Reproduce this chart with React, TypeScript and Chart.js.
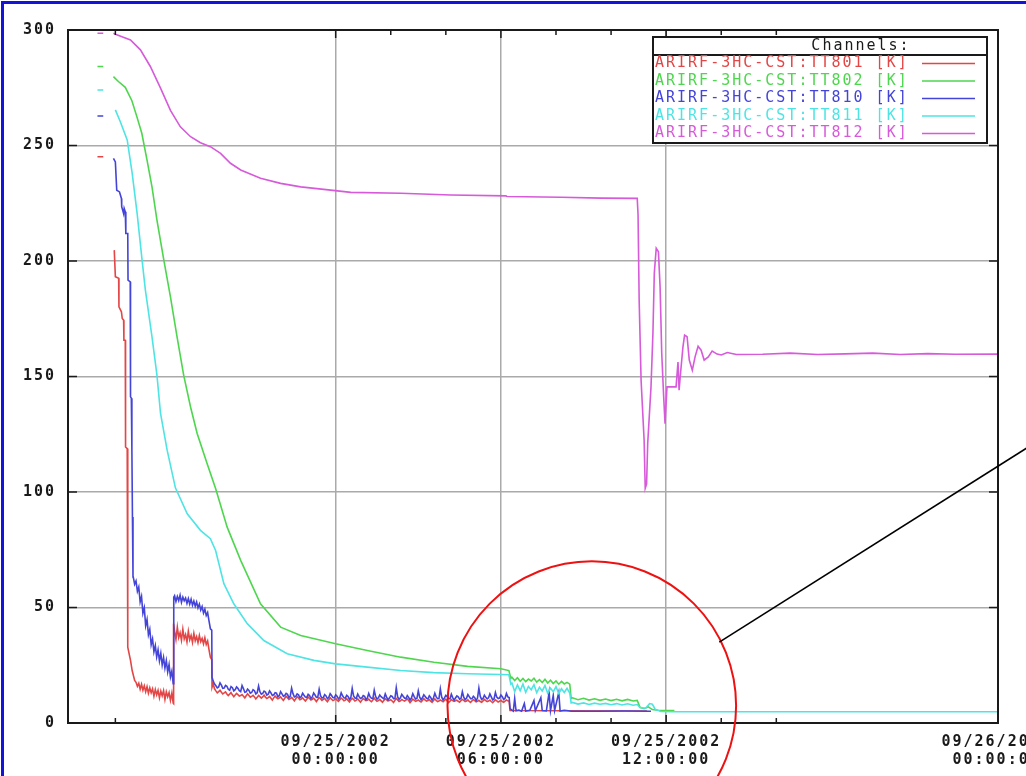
import { useEffect, useRef } from 'react';
import { Chart, registerables } from 'chart.js';

Chart.register(...registerables);

type Row = [number, number | null];

// Time axis: hours relative to 09/25/2002 00:00:00
const AXIS_START = -9.72;
const AXIS_END = 24.05;
const MAJOR_TIME_TICKS = [0, 6, 12];
const MINOR_TIME_TICKS = [-8, 2, 4, 8, 10, 14, 16];
const LABELED_TIMES = [0, 6, 12, 24];
const KELVIN_TICKS = [0, 50, 100, 150, 200, 250, 300];

const CHANNELS = [
  'ARIRF-3HC-CST:TT801 [K]',
  'ARIRF-3HC-CST:TT802 [K]',
  'ARIRF-3HC-CST:TT810 [K]',
  'ARIRF-3HC-CST:TT811 [K]',
  'ARIRF-3HC-CST:TT812 [K]',
];
const COLORS = ['#e34646', '#4ed64e', '#4444d8', '#4ee4e4', '#d65ad9'];

// [hours, kelvin]
const TT801: Row[] = [
  [-8.65, 245.1], [-8.44, 245.1], [-8.3, null],
  [-8.04, 204.7], [-8.0, 193.2], [-7.88, 192.5], [-7.87, 180.2], [-7.78, 178], [-7.75, 175.1],
  [-7.7, 174.4], [-7.69, 165.7], [-7.64, 165.7], [-7.63, 119.5], [-7.57, 118.8], [-7.55, 32.8],
  [-7.45, 27.1], [-7.39, 22.7], [-7.3, 18.4],
  [-7.25, 17.6], [-7.2, 15.9], [-7.15, 17.2], [-7.1, 14.6], [-7.05, 16.8], [-7.0, 14.2],
  [-6.95, 16.1], [-6.9, 13.5], [-6.85, 15.7], [-6.8, 12.9], [-6.75, 15.2], [-6.7, 13.1],
  [-6.65, 14.8], [-6.6, 11.6], [-6.55, 14.5], [-6.5, 12.2], [-6.45, 14.1], [-6.4, 10.9],
  [-6.35, 13.8], [-6.3, 11.8], [-6.25, 14.0], [-6.2, 10.2], [-6.15, 13.5], [-6.1, 11.4],
  [-6.05, 13.2], [-6.0, 9.8], [-5.95, 12.9], [-5.9, 8.6], [-5.89, 8.4],
  [-5.88, 43.0], [-5.85, 39.8], [-5.8, 36.2], [-5.75, 41.5], [-5.7, 37.0], [-5.65, 39.1],
  [-5.6, 35.8], [-5.55, 40.6], [-5.5, 36.4], [-5.45, 38.3], [-5.4, 35.1], [-5.35, 39.7],
  [-5.3, 36.0], [-5.25, 37.9], [-5.2, 34.9], [-5.15, 38.8], [-5.1, 35.6], [-5.05, 37.4],
  [-5.0, 34.8], [-4.95, 37.9], [-4.9, 35.2], [-4.85, 36.6], [-4.8, 34.3], [-4.75, 36.9],
  [-4.7, 34.0], [-4.65, 35.5], [-4.6, 31.8], [-4.55, 28.5], [-4.5, 27.4],
  [-4.49, 15.5], [-4.45, 17.0],
  [-4.4, 14.8], [-4.35, 13.9], [-4.3, 13.1], [-4.25, 13.6], [-4.2, 14.2], [-4.15, 13.3],
  [-4.1, 12.6], [-4.05, 13.0], [-4.0, 13.5], [-3.95, 12.6], [-3.9, 11.9], [-3.85, 12.5],
  [-3.8, 13.2], [-3.75, 12.2], [-3.7, 11.4], [-3.65, 12.1], [-3.6, 12.8], [-3.55, 12.3],
  [-3.5, 11.7], [-3.45, 11.9], [-3.4, 12.3], [-3.35, 11.6], [-3.3, 10.9], [-3.25, 11.8],
  [-3.2, 12.6], [-3.15, 11.9], [-3.1, 11.2], [-3.05, 11.5], [-3.0, 12.0], [-2.95, 11.3],
  [-2.9, 10.4], [-2.85, 11.1], [-2.8, 11.9], [-2.75, 11.4], [-2.7, 10.8], [-2.65, 11.3],
  [-2.6, 12.1], [-2.55, 11.2], [-2.5, 10.6], [-2.45, 11.0], [-2.4, 11.5], [-2.35, 10.7],
  [-2.3, 9.9], [-2.25, 10.9], [-2.2, 11.7], [-2.15, 11.0], [-2.1, 10.5], [-2.05, 10.8],
  [-2.0, 11.3], [-1.95, 10.5], [-1.9, 9.8], [-1.85, 10.7], [-1.8, 11.6], [-1.75, 10.9],
  [-1.7, 10.2], [-1.65, 10.6], [-1.6, 11.1], [-1.55, 10.4], [-1.5, 9.6], [-1.45, 10.5],
  [-1.4, 11.4], [-1.35, 10.8], [-1.3, 10.1], [-1.25, 10.4], [-1.2, 10.9], [-1.15, 10.2],
  [-1.1, 9.5], [-1.05, 10.3], [-1.0, 11.2], [-0.95, 10.6], [-0.9, 10.0], [-0.85, 10.3],
  [-0.8, 10.8], [-0.75, 10.1], [-0.7, 9.3], [-0.65, 10.2], [-0.6, 11.0], [-0.55, 10.5],
  [-0.5, 9.8], [-0.45, 10.2], [-0.4, 10.7], [-0.35, 9.9], [-0.3, 9.2], [-0.25, 10.1],
  [-0.2, 10.9], [-0.15, 10.3], [-0.1, 9.7], [-0.05, 10.0], [0.0, 10.6], [0.05, 9.9],
  [0.1, 9.4], [0.15, 10.1], [0.2, 10.8], [0.25, 10.3], [0.3, 9.6], [0.35, 9.9],
  [0.4, 10.5], [0.45, 9.8], [0.5, 9.1], [0.55, 10.0], [0.6, 10.7], [0.65, 10.2],
  [0.7, 9.5], [0.75, 9.9], [0.8, 10.4], [0.85, 9.7], [0.9, 9.0], [0.95, 9.9],
  [1.0, 10.6], [1.05, 10.1], [1.1, 9.7], [1.15, 9.8], [1.2, 10.3], [1.25, 9.7],
  [1.3, 9.2], [1.35, 9.9], [1.4, 10.8], [1.45, 10.0], [1.5, 9.4], [1.55, 9.7],
  [1.6, 10.2], [1.65, 9.6], [1.7, 9.0], [1.75, 9.8], [1.8, 10.5], [1.85, 10.0],
  [1.9, 9.6], [1.95, 9.7], [2.0, 10.1], [2.05, 9.5], [2.1, 8.9], [2.15, 9.8],
  [2.2, 10.6], [2.25, 10.0], [2.3, 9.3], [2.35, 9.6], [2.4, 10.2], [2.45, 9.8],
  [2.5, 9.5], [2.55, 9.9], [2.6, 10.4], [2.65, 9.7], [2.7, 8.8], [2.75, 9.5],
  [2.8, 10.3], [2.85, 9.9], [2.9, 9.4], [2.95, 9.6], [3.0, 10.0], [3.05, 9.5],
  [3.1, 9.1], [3.15, 9.8], [3.2, 10.5], [3.25, 9.9], [3.3, 9.5], [3.35, 9.7],
  [3.4, 10.1], [3.45, 9.4], [3.5, 8.9], [3.55, 9.7], [3.6, 10.4], [3.65, 9.8],
  [3.7, 9.3], [3.75, 9.5], [3.8, 10.0], [3.85, 9.6], [3.9, 9.2], [3.95, 9.8],
  [4.0, 10.3], [4.05, 9.5], [4.1, 8.8], [4.15, 9.4], [4.2, 10.1], [4.25, 9.7],
  [4.3, 9.4], [4.35, 9.6], [4.4, 9.9], [4.45, 9.4], [4.5, 9.0], [4.55, 9.7],
  [4.6, 10.2], [4.65, 9.8], [4.7, 9.3], [4.75, 9.5], [4.8, 10.0], [4.85, 9.4],
  [4.9, 8.9], [4.95, 9.6], [5.0, 10.1], [5.05, 9.7], [5.1, 9.2], [5.15, 9.4],
  [5.2, 9.8], [5.25, 9.3], [5.3, 9.0], [5.35, 9.6], [5.4, 10.2], [5.45, 9.7],
  [5.5, 9.3], [5.55, 9.5], [5.6, 9.9], [5.65, 9.3], [5.7, 8.8], [5.75, 9.4],
  [5.8, 10.0], [5.85, 9.6], [5.9, 9.1], [5.95, 9.4], [6.0, 9.8], [6.05, 9.3],
  [6.1, 9.0], [6.15, 9.5], [6.2, 10.0], [6.25, 9.6], [6.3, 9.4],
  [6.33, 5.4], [8.5, 5.3], [11.3, 5.2],
];

const TT802: Row[] = [
  [-8.65, 284.2], [-8.44, 284.2], [-8.3, null],
  [-8.07, 279.8], [-7.89, 277.7], [-7.64, 275.2], [-7.4, 269.4], [-7.22, 262.5], [-7.04, 255.3],
  [-6.85, 243.7], [-6.67, 232.1], [-6.49, 217.7], [-6.24, 200.4], [-6.0, 184.5], [-5.76, 167.2],
  [-5.52, 150.6], [-5.27, 136.8], [-5.03, 125.3], [-4.67, 112.3], [-4.36, 101.5], [-3.94, 84.8],
  [-3.45, 70.4], [-2.73, 51.6], [-2.0, 41.5], [-1.27, 37.9], [0, 34.3], [1.15, 31.4],
  [2.36, 28.5], [3.57, 26.3], [4.79, 24.5], [6.0, 23.5], [6.29, 22.7],
  [6.36, 19.3], [6.4, 19.8], [6.5, 18.4], [6.6, 19.6], [6.7, 18.1], [6.8, 19.3], [6.9, 17.9],
  [7.0, 19.0], [7.1, 18.2], [7.2, 19.4], [7.3, 17.7], [7.4, 18.8], [7.5, 17.5], [7.6, 18.9],
  [7.7, 17.3], [7.8, 18.5], [7.9, 17.1], [8.0, 18.2], [8.1, 16.8], [8.2, 18.0], [8.3, 16.9],
  [8.4, 17.6], [8.5, 16.8],
  [8.55, 10.6], [8.6, 10.9], [8.8, 10.1], [9.0, 10.7], [9.2, 9.9], [9.4, 10.5], [9.6, 9.8],
  [9.8, 10.4], [10.0, 9.7], [10.2, 10.3], [10.4, 9.6], [10.6, 10.2], [10.8, 9.5], [10.95, 9.8],
  [11.05, 6.8], [11.2, 6.2], [11.35, 7.0], [11.5, 5.8], [11.7, 5.5], [12.0, 5.4], [12.3, 5.4],
];

const TT810: Row[] = [
  [-8.65, 262.8], [-8.44, 262.8], [-8.3, null],
  [-8.07, 244.4], [-8.0, 242.9], [-7.95, 230.6], [-7.85, 229.9], [-7.78, 227.1], [-7.77, 223.5],
  [-7.7, 220.5], [-7.68, 222.8], [-7.64, 221.3], [-7.62, 211.9], [-7.55, 211.9], [-7.54, 191.7],
  [-7.46, 191], [-7.45, 141.2], [-7.42, 140.6], [-7.4, 118.1], [-7.38, 89.2], [-7.36, 63.2],
  [-7.35, 63.2], [-7.3, 60.1], [-7.25, 61.5], [-7.2, 57.0], [-7.15, 58.9], [-7.1, 52.4],
  [-7.05, 54.8], [-7.0, 47.5], [-6.95, 49.9], [-6.9, 42.1], [-6.85, 44.8], [-6.8, 38.2],
  [-6.75, 40.6], [-6.7, 33.9], [-6.65, 36.4], [-6.6, 30.8], [-6.55, 33.5], [-6.5, 28.6],
  [-6.45, 31.7], [-6.4, 26.9], [-6.35, 30.2], [-6.3, 25.1], [-6.25, 28.4], [-6.2, 23.8],
  [-6.15, 27.0], [-6.1, 22.1], [-6.05, 25.3], [-6.0, 19.9], [-5.95, 22.4], [-5.9, 17.0],
  [-5.88, 54.5], [-5.85, 55.1], [-5.8, 52.6], [-5.75, 54.8], [-5.7, 53.0], [-5.65, 55.3],
  [-5.6, 52.2], [-5.55, 54.5], [-5.5, 52.9], [-5.45, 54.1], [-5.4, 51.8], [-5.35, 53.9],
  [-5.3, 51.5], [-5.25, 53.6], [-5.2, 51.0], [-5.15, 52.8], [-5.1, 50.6], [-5.05, 52.4],
  [-5.0, 49.8], [-4.95, 51.5], [-4.9, 48.9], [-4.85, 50.4], [-4.8, 47.6], [-4.75, 49.3],
  [-4.7, 46.5], [-4.65, 47.8], [-4.6, 44.2], [-4.55, 40.8], [-4.5, 40.2],
  [-4.49, 19.8], [-4.45, 18.2],
  [-4.4, 16.9], [-4.35, 16.1], [-4.3, 15.2], [-4.25, 15.6], [-4.2, 17.4], [-4.15, 16.4],
  [-4.1, 15.0], [-4.05, 15.1], [-4.0, 16.3], [-3.95, 15.9], [-3.9, 14.6], [-3.85, 14.2],
  [-3.8, 15.8], [-3.75, 15.3], [-3.7, 13.9], [-3.65, 14.4], [-3.6, 15.6], [-3.55, 15.0],
  [-3.5, 14.0], [-3.45, 13.6], [-3.4, 16.2], [-3.35, 14.9], [-3.3, 13.3], [-3.25, 13.5],
  [-3.2, 14.7], [-3.15, 14.1], [-3.1, 12.9], [-3.05, 13.2], [-3.0, 14.4], [-2.95, 14.0],
  [-2.9, 12.6], [-2.85, 13.1], [-2.8, 16.0], [-2.75, 13.5], [-2.7, 12.5], [-2.65, 12.8],
  [-2.6, 13.8], [-2.55, 13.4], [-2.5, 12.1], [-2.45, 12.5], [-2.4, 13.9], [-2.35, 13.0],
  [-2.3, 11.9], [-2.25, 12.2], [-2.2, 13.1], [-2.15, 12.9], [-2.1, 11.4], [-2.05, 11.8],
  [-2.0, 13.6], [-1.95, 12.6], [-1.9, 11.6], [-1.85, 11.9], [-1.8, 12.8], [-1.75, 12.4],
  [-1.7, 11.0], [-1.65, 11.6], [-1.6, 15.1], [-1.55, 12.7], [-1.5, 11.3], [-1.45, 11.5],
  [-1.4, 12.6], [-1.35, 12.2], [-1.3, 10.9], [-1.25, 11.4], [-1.2, 12.9], [-1.15, 12.0],
  [-1.1, 11.2], [-1.05, 11.1], [-1.0, 12.4], [-0.95, 11.9], [-0.9, 10.6], [-0.85, 11.3],
  [-0.8, 13.0], [-0.75, 12.1], [-0.7, 11.1], [-0.65, 11.2], [-0.6, 14.6], [-0.55, 11.8],
  [-0.5, 10.8], [-0.45, 11.0], [-0.4, 12.3], [-0.35, 11.7], [-0.3, 10.5], [-0.25, 11.1],
  [-0.2, 12.7], [-0.15, 11.9], [-0.1, 11.0], [-0.05, 10.9], [0.0, 12.2], [0.05, 11.6],
  [0.1, 10.4], [0.15, 11.0], [0.2, 13.1], [0.25, 11.8], [0.3, 10.9], [0.35, 10.8],
  [0.4, 12.0], [0.45, 11.5], [0.5, 10.2], [0.55, 11.0], [0.6, 15.0], [0.65, 11.7],
  [0.7, 10.8], [0.75, 10.7], [0.8, 12.5], [0.85, 11.4], [0.9, 10.6], [0.95, 10.9],
  [1.0, 11.9], [1.05, 11.6], [1.1, 10.1], [1.15, 10.8], [1.2, 12.8], [1.25, 11.3],
  [1.3, 10.7], [1.35, 10.6], [1.4, 14.2], [1.45, 11.5], [1.5, 10.3], [1.55, 10.9],
  [1.6, 12.1], [1.65, 11.4], [1.7, 10.9], [1.75, 10.5], [1.8, 12.6], [1.85, 11.2],
  [1.9, 10.0], [1.95, 10.8], [2.0, 11.8], [2.05, 11.5], [2.1, 10.5], [2.15, 10.6],
  [2.2, 15.3], [2.25, 11.3], [2.3, 10.2], [2.35, 10.9], [2.4, 12.4], [2.45, 11.6],
  [2.5, 10.8], [2.55, 10.5], [2.6, 11.9], [2.65, 11.1], [2.7, 9.9], [2.75, 10.8],
  [2.8, 12.7], [2.85, 11.4], [2.9, 10.4], [2.95, 10.6], [3.0, 13.9], [3.05, 11.2],
  [3.1, 10.1], [3.15, 10.9], [3.2, 12.2], [3.25, 11.5], [3.3, 10.7], [3.35, 10.4],
  [3.4, 11.8], [3.45, 11.1], [3.5, 9.8], [3.55, 10.8], [3.6, 12.9], [3.65, 11.3],
  [3.7, 10.5], [3.75, 10.6], [3.8, 14.8], [3.85, 11.2], [3.9, 10.0], [3.95, 10.9],
  [4.0, 12.0], [4.05, 11.4], [4.1, 10.6], [4.15, 10.5], [4.2, 12.5], [4.25, 11.0],
  [4.3, 9.9], [4.35, 10.8], [4.4, 11.7], [4.45, 11.3], [4.5, 10.3], [4.55, 10.6],
  [4.6, 13.6], [4.65, 11.2], [4.7, 10.1], [4.75, 10.7], [4.8, 12.3], [4.85, 11.4],
  [4.9, 10.5], [4.95, 10.5], [5.0, 11.6], [5.05, 11.0], [5.1, 9.7], [5.15, 10.8],
  [5.2, 15.1], [5.25, 11.5], [5.3, 10.2], [5.35, 10.6], [5.4, 12.0], [5.45, 11.1],
  [5.5, 10.4], [5.55, 10.9], [5.6, 12.6], [5.65, 11.3], [5.7, 10.0], [5.75, 10.4],
  [5.8, 13.2], [5.85, 11.2], [5.9, 10.6], [5.95, 10.8], [6.0, 12.1], [6.05, 11.4],
  [6.1, 10.2], [6.15, 10.7], [6.2, 12.8], [6.25, 11.3], [6.3, 11.0],
  [6.33, 6.2], [6.4, 5.6], [6.45, 5.2], [6.5, 10.6], [6.55, 5.3], [6.65, 5.6], [6.75, 5.1],
  [6.85, 8.4], [6.9, 5.2], [7.05, 5.5], [7.2, 9.7], [7.25, 5.3], [7.45, 11.0], [7.5, 5.4],
  [7.65, 5.2], [7.75, 13.2], [7.8, 5.3], [7.9, 11.9], [7.95, 5.4], [8.1, 13.2], [8.15, 5.2],
  [8.3, 5.5], [8.45, 5.3], [8.55, 5.1], [9.5, 5.1], [10.5, 5.2], [11.45, 5.1],
];

const TT811: Row[] = [
  [-8.65, 274.0], [-8.44, 274.0], [-8.3, null],
  [-8.0, 265.4], [-7.82, 260.3], [-7.57, 252.4], [-7.39, 238.0], [-7.21, 220.6], [-7.03, 200.4],
  [-6.91, 187.4], [-6.67, 167.2], [-6.49, 150.6], [-6.36, 134.0], [-6.12, 118.1], [-5.82, 101.8],
  [-5.39, 90.6], [-4.91, 83.4], [-4.55, 79.8], [-4.36, 74.7], [-4.06, 60.3], [-3.7, 51.6],
  [-3.21, 43.0], [-2.61, 35.7], [-1.76, 30.0], [-0.79, 27.1], [0, 25.6], [1.15, 24.2],
  [2.36, 22.7], [3.56, 21.8], [4.79, 21.3], [6.0, 21.0], [6.29, 20.9],
  [6.36, 16.8], [6.4, 17.3], [6.5, 13.6], [6.6, 16.5], [6.7, 14.0], [6.8, 16.9], [6.9, 13.3],
  [7.0, 15.8], [7.1, 14.4], [7.2, 16.6], [7.3, 13.1], [7.4, 15.5], [7.5, 13.9], [7.6, 16.2],
  [7.7, 12.9], [7.8, 15.1], [7.9, 13.5], [8.0, 15.7], [8.1, 12.8], [8.2, 14.8], [8.3, 13.2],
  [8.4, 15.0], [8.5, 13.0],
  [8.55, 8.7], [8.6, 8.9], [8.8, 8.2], [9.0, 8.7], [9.2, 8.0], [9.4, 8.6], [9.6, 8.1],
  [9.8, 8.5], [10.0, 7.9], [10.2, 8.4], [10.4, 7.8], [10.6, 8.3], [10.8, 7.7], [10.95, 8.0],
  [11.05, 6.7], [11.25, 6.4], [11.4, 8.4], [11.5, 8.1], [11.6, 6.0], [11.8, 5.0], [12.2, 4.9],
  [24.05, 4.9],
];

const TT812: Row[] = [
  [-8.65, 298.6], [-8.44, 298.6], [-8.3, null],
  [-8.07, 298.6], [-7.95, 297.9], [-7.45, 295.7], [-7.09, 291.4], [-6.73, 284.2], [-6.36, 274.8],
  [-6.0, 265.2], [-5.64, 258.1], [-5.27, 253.8], [-4.91, 251.2], [-4.55, 249.5], [-4.18, 246.6],
  [-3.82, 242.3], [-3.45, 239.4], [-2.73, 235.8], [-2.0, 233.6], [-1.27, 232.1], [-0.18, 230.7],
  [0.55, 229.7], [2.36, 229.3], [4.18, 228.6], [6.18, 228.2], [6.22, 227.9], [8.18, 227.6],
  [9.64, 227.2], [10.95, 227.1], [10.98, 219.9], [11.02, 183.0], [11.09, 148.4], [11.2, 122.4],
  [11.24, 101.6], [11.29, 103.5], [11.33, 121.0], [11.45, 145.5], [11.52, 168.8], [11.57, 194.8],
  [11.64, 205.5], [11.72, 204.0], [11.78, 188.8], [11.84, 160.0], [11.91, 141.2], [11.96, 129.6],
  [12.03, 145.5], [12.36, 145.5], [12.43, 156.3], [12.47, 144.1], [12.51, 149.8], [12.61, 162.8],
  [12.67, 167.9], [12.76, 167.2], [12.84, 157.1], [12.95, 152.7], [13.05, 158.5], [13.16, 163.1],
  [13.27, 161.4], [13.38, 157.1], [13.53, 158.5], [13.67, 161.0], [13.85, 159.7], [14.0, 159.3],
  [14.22, 160.4], [14.55, 159.5], [15.5, 159.6], [16.5, 160.1], [17.5, 159.5], [18.5, 159.8],
  [19.5, 160.1], [20.5, 159.5], [21.5, 159.9], [22.5, 159.6], [24.05, 159.7],
];

const SERIES = [TT801, TT802, TT810, TT811, TT812];
// later channels are drawn over earlier ones
const DRAW_ORDER = [4, 3, 2, 1, 0];

// Hand-drawn note: a circle around the cold-end region and a pointer line
const NOTE_CENTER: [number, number] = [9.3, 7.5];
const NOTE_RADIUS_HOURS = 5.24;
const NOTE_POINTER: [number, number][] = [[13.93, 35], [25.7, 123.6]];

const FONT_FAMILY = '"DejaVu Sans Mono", monospace';
const LEGEND_FONT = `15px ${FONT_FAMILY}`;
const LETTER_SPACING = '2px';
const INK = '#1a1a1a';

const timeLabel = (h: number) => {
  const day = 25 + Math.floor(h / 24);
  const hour = ((h % 24) + 24) % 24;
  return [`09/${day}/2002`, `${String(hour).padStart(2, '0')}:00:00`];
};

const decorPlugin = {
  id: 'decor',
  beforeDraw(chart: any) {
    const { ctx, width, height } = chart;
    ctx.save();
    ctx.fillStyle = '#ffffff';
    ctx.fillRect(0, 0, width, height);
    ctx.restore();
    ctx.letterSpacing = LETTER_SPACING;
  },
  afterDatasetsDraw(chart: any) {
    const { ctx, chartArea: a, scales } = chart;
    const xs = scales.x;
    const ys = scales.y;
    ctx.save();
    ctx.letterSpacing = LETTER_SPACING;

    // plot frame
    ctx.strokeStyle = INK;
    ctx.lineWidth = 2;
    ctx.strokeRect(a.left, a.top, a.right - a.left, a.bottom - a.top);

    // inward tick marks on all four sides
    ctx.lineWidth = 1.5;
    ctx.beginPath();
    const marks = [
      ...MAJOR_TIME_TICKS.map((h) => [h, 8]),
      ...MINOR_TIME_TICKS.map((h) => [h, 5]),
    ];
    for (const [h, len] of marks) {
      const px = xs.getPixelForValue(h);
      ctx.moveTo(px, a.bottom);
      ctx.lineTo(px, a.bottom - len);
      ctx.moveTo(px, a.top);
      ctx.lineTo(px, a.top + len);
    }
    for (const k of KELVIN_TICKS) {
      const py = ys.getPixelForValue(k);
      ctx.moveTo(a.left, py);
      ctx.lineTo(a.left + 9, py);
      ctx.moveTo(a.right, py);
      ctx.lineTo(a.right - 9, py);
    }
    ctx.stroke();

    // channel legend box
    const bw = 334;
    const bh = 106;
    const bx = a.right - 345;
    const by = a.top + 7;
    ctx.fillStyle = '#ffffff';
    ctx.fillRect(bx, by, bw, bh);
    ctx.strokeStyle = INK;
    ctx.lineWidth = 2;
    ctx.strokeRect(bx, by, bw, bh);
    ctx.beginPath();
    ctx.moveTo(bx, by + 18);
    ctx.lineTo(bx + bw, by + 18);
    ctx.stroke();
    ctx.font = LEGEND_FONT;
    ctx.textBaseline = 'middle';
    ctx.textAlign = 'center';
    ctx.fillStyle = INK;
    ctx.fillText('Channels:', bx + 208, by + 9);
    ctx.textAlign = 'left';
    chart.data.datasets.forEach((ds: any, i: number) => {
      const y = by + 26.5 + i * 17.5;
      ctx.fillStyle = ds.borderColor;
      ctx.fillText(ds.label, bx + 2, y);
      ctx.strokeStyle = ds.borderColor;
      ctx.lineWidth = 1.5;
      ctx.beginPath();
      ctx.moveTo(bx + 269, y);
      ctx.lineTo(bx + 322, y);
      ctx.stroke();
    });
    ctx.restore();
  },
  afterDraw(chart: any) {
    const { ctx, scales } = chart;
    const xs = scales.x;
    const ys = scales.y;
    ctx.save();
    // note circle
    const cx = xs.getPixelForValue(NOTE_CENTER[0]);
    const cy = ys.getPixelForValue(NOTE_CENTER[1]);
    const r = xs.getPixelForValue(NOTE_CENTER[0] + NOTE_RADIUS_HOURS) - cx;
    ctx.strokeStyle = '#ee1111';
    ctx.lineWidth = 2;
    ctx.beginPath();
    ctx.arc(cx, cy, r, 0, Math.PI * 2);
    ctx.stroke();
    // pointer line
    ctx.strokeStyle = '#000000';
    ctx.lineWidth = 1.6;
    ctx.beginPath();
    ctx.moveTo(xs.getPixelForValue(NOTE_POINTER[0][0]), ys.getPixelForValue(NOTE_POINTER[0][1]));
    ctx.lineTo(xs.getPixelForValue(NOTE_POINTER[1][0]), ys.getPixelForValue(NOTE_POINTER[1][1]));
    ctx.stroke();
    // outer blue frame
    ctx.strokeStyle = '#1414d8';
    ctx.lineWidth = 3;
    ctx.strokeRect(2.5, 2.5, chart.width + 40, chart.height + 40);
    ctx.restore();
  },
};

export default function App() {
  const canvasRef = useRef<HTMLCanvasElement | null>(null);

  useEffect(() => {
    const canvas = canvasRef.current;
    if (!canvas) return;
    const tickFont = { family: FONT_FAMILY, size: 15, weight: 'bold', lineHeight: '18px' };
    const chart = new Chart(canvas, {
      type: 'line',
      data: {
        datasets: SERIES.map((rows, i) => ({
          label: CHANNELS[i],
          data: rows.map(([x, y]) => ({ x, y })),
          borderColor: COLORS[i],
          backgroundColor: COLORS[i],
          borderWidth: 1.6,
          pointRadius: 0,
          tension: 0,
          spanGaps: false,
          order: DRAW_ORDER[i],
        })),
      },
      options: {
        responsive: false,
        animation: false,
        devicePixelRatio: 1,
        events: [],
        layout: { padding: { top: 30, right: 28, left: 0, bottom: 0 } },
        plugins: { legend: { display: false }, tooltip: { enabled: false } },
        scales: {
          x: {
            type: 'linear',
            min: AXIS_START,
            max: AXIS_END,
            afterBuildTicks: (scale: any) => {
              const values = [...MINOR_TIME_TICKS, ...MAJOR_TIME_TICKS, 24].sort((p, q) => p - q);
              scale.ticks = values.map((value) => ({ value }));
            },
            afterFit: (scale: any) => {
              scale.height = 53;
              scale.paddingLeft = 0;
              scale.paddingRight = 0;
            },
            border: { display: false },
            grid: {
              drawTicks: false,
              lineWidth: 1.5,
              color: (c: any) => (MAJOR_TIME_TICKS.includes(c.tick?.value) ? '#aaaaaa' : 'rgba(0,0,0,0)'),
            },
            ticks: {
              autoSkip: false,
              maxRotation: 0,
              minRotation: 0,
              padding: 10,
              color: INK,
              font: tickFont,
              callback: (value: any) => (LABELED_TIMES.includes(Number(value)) ? timeLabel(Number(value)) : ''),
            },
          },
          y: {
            type: 'linear',
            min: 0,
            max: 300,
            afterBuildTicks: (scale: any) => {
              scale.ticks = KELVIN_TICKS.map((value) => ({ value }));
            },
            afterFit: (scale: any) => {
              scale.width = 68;
              scale.paddingTop = 0;
              scale.paddingBottom = 0;
            },
            border: { display: false },
            grid: {
              drawTicks: false,
              lineWidth: 1.5,
              color: (c: any) => (c.tick?.value === 0 || c.tick?.value === 300 ? 'rgba(0,0,0,0)' : '#aaaaaa'),
            },
            ticks: {
              padding: 12,
              color: INK,
              font: tickFont,
              callback: (value: any) => String(value),
            },
          },
        },
      },
      plugins: [decorPlugin],
    } as any);
    return () => chart.destroy();
  }, []);

  return (
    <div style={{ position: 'absolute', left: 0, top: 0, width: 1026, height: 776, overflow: 'hidden', background: '#fff' }}>
      <canvas ref={canvasRef} width={1026} height={776} style={{ display: 'block' }} />
    </div>
  );
}
